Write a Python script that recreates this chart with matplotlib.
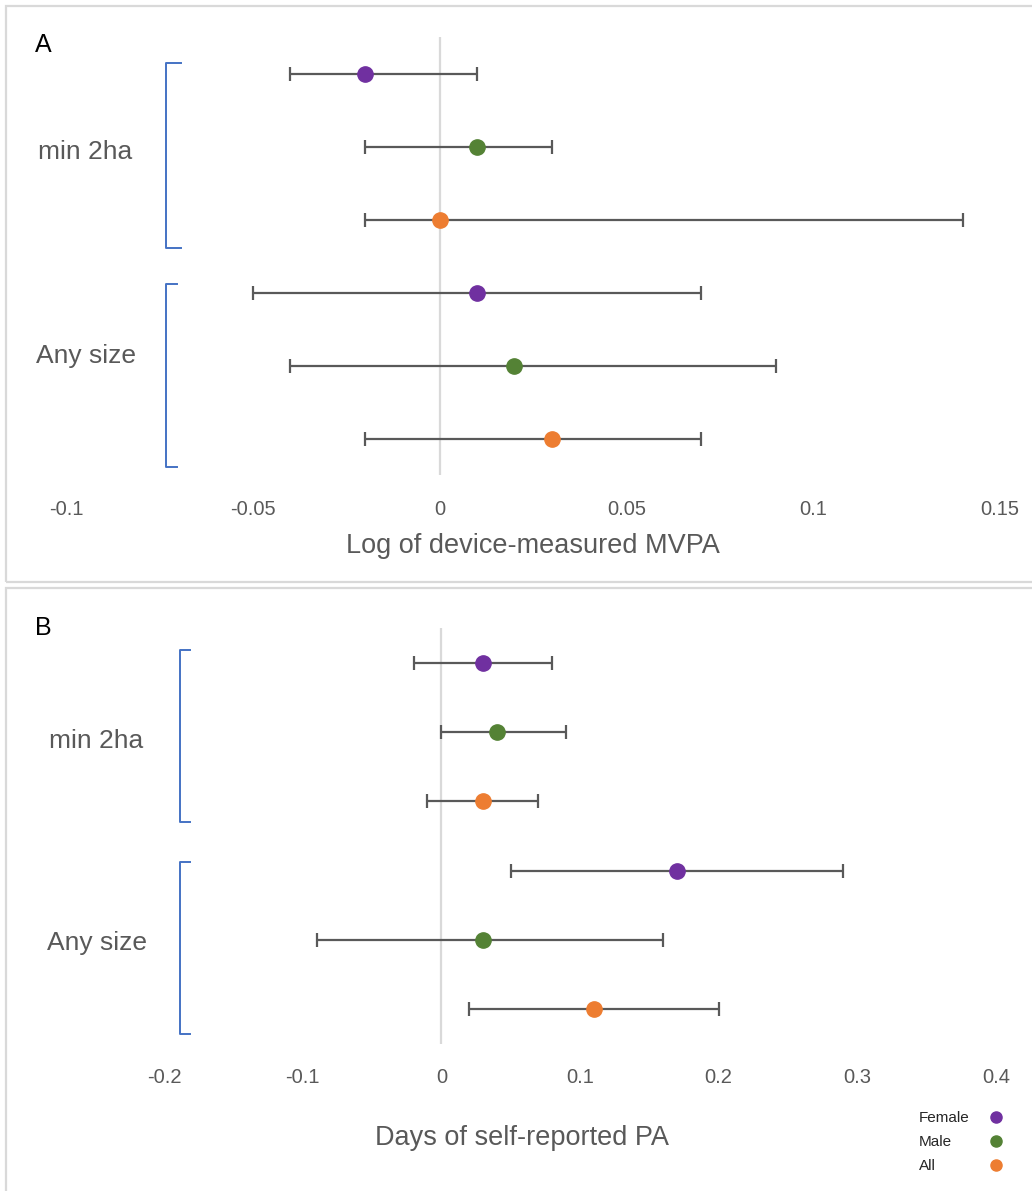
import matplotlib
matplotlib.use("Agg")
from matplotlib import pyplot as plt
from matplotlib.lines import Line2D
from matplotlib.patches import Rectangle

# rows top to bottom: Female, Male, All for "min 2ha", then for "Any size"
groups = ["min 2ha", "Any size"]
series = ["Female", "Male", "All"]
colors = ["#7030A0", "#548235", "#ED7D31"]

# A: log of device-measured MVPA
a_est = [-0.02, 0.01, 0.0, 0.01, 0.02, 0.03]
a_low = [-0.04, -0.02, -0.02, -0.05, -0.04, -0.02]
a_high = [0.01, 0.03, 0.14, 0.07, 0.09, 0.07]
a_ticks = [-0.1, -0.05, 0, 0.05, 0.1, 0.15]
a_ticklabels = ["-0.1", "-0.05", "0", "0.05", "0.1", "0.15"]

# B: days of self-reported PA
b_est = [0.03, 0.04, 0.03, 0.17, 0.03, 0.11]
b_low = [-0.02, 0.0, -0.01, 0.05, -0.09, 0.02]
b_high = [0.08, 0.09, 0.07, 0.29, 0.16, 0.20]
b_ticks = [-0.2, -0.1, 0, 0.1, 0.2, 0.3, 0.4]
b_ticklabels = ["-0.2", "-0.1", "0", "0.1", "0.2", "0.3", "0.4"]

W, H = 1032, 1191
fig = plt.figure(figsize=(W / 100, H / 100), dpi=100)
plt.rcParams["font.family"] = ["Liberation Sans", "DejaVu Sans"]

grey = "#595959"
blue = "#4472C4"


def fx(x):
    return x / W


def fy(y):
    return 1 - y / H


def box(x0, y0, x1, y1):
    fig.add_artist(Rectangle((fx(x0), fy(y1)), fx(x1 - x0), (y1 - y0) / H,
                             transform=fig.transFigure, fill=False,
                             edgecolor="#d9d9d9", linewidth=1.6))


def bracket(x, y0, y1, xt):
    fig.add_artist(Line2D([fx(xt), fx(x), fx(x), fx(xt)],
                          [fy(y0), fy(y0), fy(y1), fy(y1)],
                          transform=fig.transFigure, color=blue, linewidth=1.4))


def panel(left, right, top, bottom, est, low, high, ticks, labels, pad):
    ax = fig.add_axes([fx(left), fy(bottom), fx(right - left), (bottom - top) / H])
    ax.set_xlim(ticks[0], ticks[-1])
    ax.set_ylim(6.5, 0.5)
    ax.axvline(0, color="#d9d9d9", linewidth=1.6, zorder=1)
    for i in range(6):
        c = colors[i % 3]
        ax.errorbar(est[i], i + 1, xerr=[[est[i] - low[i]], [high[i] - est[i]]],
                    fmt="o", color=c, markersize=11, ecolor=grey,
                    elinewidth=1.6, capsize=5, capthick=1.6, zorder=3)
    ax.set_xticks(ticks)
    ax.set_xticklabels(labels, fontsize=14.5, color=grey)
    ax.tick_params(axis="x", length=0, pad=pad)
    ax.set_yticks([])
    for s in ax.spines.values():
        s.set_visible(False)
    return ax


# panel frames
box(6, 6, 1040, 582)
box(6, 588, 1040, 1200)

# panel A
panel(66, 1000, 37, 475, a_est, a_low, a_high, a_ticks, a_ticklabels, 18)
fig.text(fx(35), fy(45), "A", fontsize=18, color="black", ha="left", va="center")
fig.text(fx(85), fy(152), groups[0], fontsize=19, color=grey, ha="center", va="center")
fig.text(fx(86), fy(356), groups[1], fontsize=19, color=grey, ha="center", va="center")
bracket(166, 63, 248, 181)
bracket(166, 284, 467, 177)
fig.text(fx(533), fy(546), "Log of device-measured MVPA", fontsize=19.5, color=grey,
         ha="center", va="center")

# panel B
panel(164, 996, 628, 1044, b_est, b_low, b_high, b_ticks, b_ticklabels, 17)
fig.text(fx(35), fy(628), "B", fontsize=18, color="black", ha="left", va="center")
fig.text(fx(96), fy(741), groups[0], fontsize=19, color=grey, ha="center", va="center")
fig.text(fx(97), fy(943), groups[1], fontsize=19, color=grey, ha="center", va="center")
bracket(180, 650, 822, 190)
bracket(180, 862, 1034, 190)
fig.text(fx(522), fy(1138), "Days of self-reported PA", fontsize=19.5, color=grey,
         ha="center", va="center")

# small legend in the lower right corner
for k, name in enumerate(series):
    y = 1118 + k * 24
    fig.text(fx(919), fy(y), name, fontsize=11, color="#262626", ha="left", va="center")
    fig.add_artist(Line2D([fx(996)], [fy(y - 1)], transform=fig.transFigure,
                          marker="o", markersize=8, color=colors[k], linestyle="none"))

fig.savefig("out.png", dpi=100)
